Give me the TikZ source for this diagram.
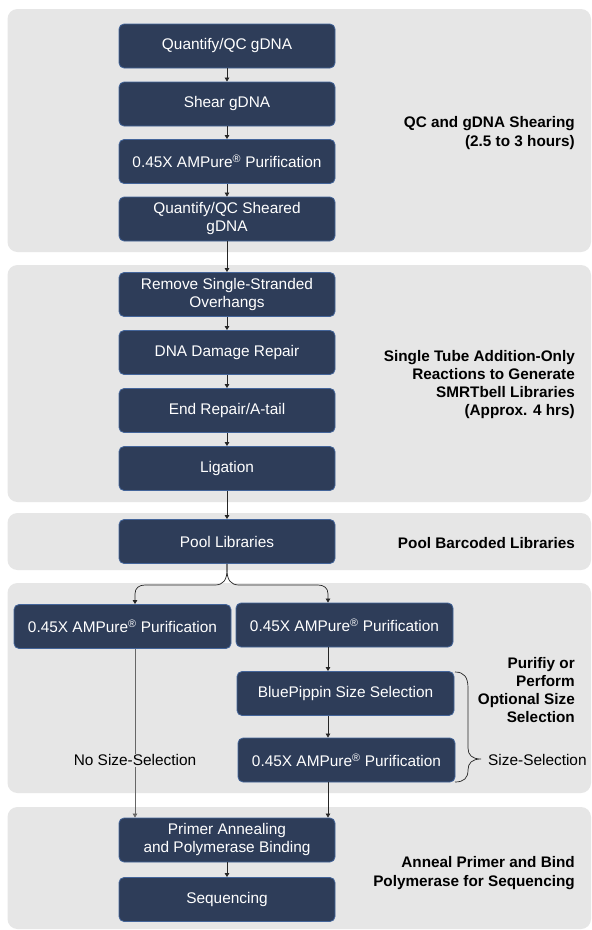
\documentclass[tikz,border=0pt]{standalone}
\usepackage{fontspec}
\setmainfont{Liberation Sans}
\usetikzlibrary{arrows.meta}
\definecolor{panelgray}{HTML}{E6E6E6}
\definecolor{boxblue}{HTML}{2E3D59}
\definecolor{boxedge}{HTML}{44659A}
\begin{document}
\begin{tikzpicture}[x=1pt,y=-1pt,
  panel/.style={fill=panelgray, rounded corners=10pt},
  stepbox/.style={rectangle, rounded corners=5pt, fill=boxblue, draw=boxedge, line width=0.8pt,
    text=white, minimum width=216pt, minimum height=44pt, align=center, inner sep=2pt,
    font=\fontsize{15.4}{18}\selectfont},
  lbl/.style={anchor=east, align=right, inner sep=0pt, font=\bfseries\fontsize{15.3}{18.3}\selectfont},
  plain/.style={inner sep=1pt, font=\fontsize{15.4}{18}\selectfont},
  conn/.style={draw=black!85, line width=0.7pt, -{Triangle[length=4pt,width=4.5pt]}},
]
\useasboundingbox (0,0) rectangle (592,930);
\fill[white] (0,0) rectangle (592,930);
% panels
\path[panel] (7.5,9) rectangle (591,252);
\path[panel] (7.5,265) rectangle (591,502);
\path[panel] (7.5,513) rectangle (591,570);
\path[panel] (7.5,583) rectangle (591,793);
\path[panel] (7.5,807) rectangle (591,929);
% helper coordinates
\coordinate (lx) at (135,0);
\coordinate (rx) at (328,0);
% main column
\node[stepbox] (q1) at (227,46) {Quantify/QC gDNA};
\node[stepbox] (sh) at (227,104) {Shear gDNA};
\node[stepbox] (am1) at (227,161.5) {0.45X AMPure\textsuperscript{®} Purification};
\node[stepbox] (q2) at (227,219) {Quantify/QC Sheared\\gDNA};
\node[stepbox] (rm) at (227,294.5) {Remove Single-Stranded\\Overhangs};
\node[stepbox] (dd) at (227,352.5) {DNA Damage Repair};
\node[stepbox] (er) at (227,410.5) {End Repair/A-tail};
\node[stepbox] (lg) at (227,468.5) {Ligation};
\node[stepbox] (pool) at (227,541.5) {Pool Libraries};
\node[stepbox, minimum width=217pt] (l1) at (122.5,626.5) {0.45X AMPure\textsuperscript{®} Purification};
\node[stepbox, minimum width=217pt] (r1) at (344.5,625) {0.45X AMPure\textsuperscript{®} Purification};
\node[stepbox, minimum width=217pt] (bp) at (345.5,693.5) {BluePippin Size Selection};
\node[stepbox, minimum width=217pt] (r2) at (346.5,760) {0.45X AMPure\textsuperscript{®} Purification};
\node[stepbox] (pr) at (227,840) {Primer Annealing\\and Polymerase Binding};
\node[stepbox] (sq) at (227,899.5) {Sequencing};
% connectors main column
\draw[conn] (q1) -- (sh);
\draw[conn] (sh) -- (am1);
\draw[conn] (am1) -- (q2);
\draw[conn] (q2) -- (rm);
\draw[conn] (rm) -- (dd);
\draw[conn] (dd) -- (er);
\draw[conn] (er) -- (lg);
\draw[conn] (lg) -- (pool);
\draw[conn] (pr) -- (sq);
% split
\draw[conn] (pool.south) -- (227,570) .. controls (227,580) and (223,585) .. (215,585)
  -- (145,585) .. controls (139,585) and (135,588) .. (135,594) -- (l1.north -| lx);
\draw[conn] (pool.south) -- (227,570) .. controls (227,580) and (231,585) .. (239,585)
  -- (318,585) .. controls (324,585) and (328,588) .. (328,594) -- (r1.north -| rx);
% branches
\draw[conn, draw=black!60] (l1.south -| lx) -- node[pos=0.66, plain, fill=panelgray] {No Size-Selection} (pr.north -| lx);
\draw[conn] (r1.south -| rx) -- (bp.north -| rx);
\draw[conn] (bp.south -| rx) -- (r2.north -| rx);
\draw[conn] (r2.south -| rx) -- (pr.north -| rx);
% brace
\draw[black!85, line width=0.7pt] (455,672) .. controls (464,672) and (468,677) .. (468,688)
  -- (468,748) .. controls (468,755) and (472,759) .. (481,759)
  .. controls (472,759) and (468,763) .. (468,770)
  .. controls (468,778) and (464,782) .. (455,782);
\node[plain, anchor=west] (ss) at (487,759.5) {Size-Selection};
% labels
\node[lbl] (t1) at (575,133) {QC and gDNA Shearing\\(2.5 to 3 hours)};
\node[lbl] (t2) at (575,384.5) {Single Tube Addition-Only\\Reactions to Generate\\SMRTbell Libraries\\(Approx. 4 hrs)};
\node[lbl] (t3) at (575,543) {Pool Barcoded Libraries};
\node[lbl] (t4) at (575,690) {Purifiy or\\Perform\\Optional Size\\Selection};
\node[lbl] (t5) at (575,873) {Anneal Primer and Bind\\Polymerase for Sequencing};
\end{tikzpicture}
\end{document}
